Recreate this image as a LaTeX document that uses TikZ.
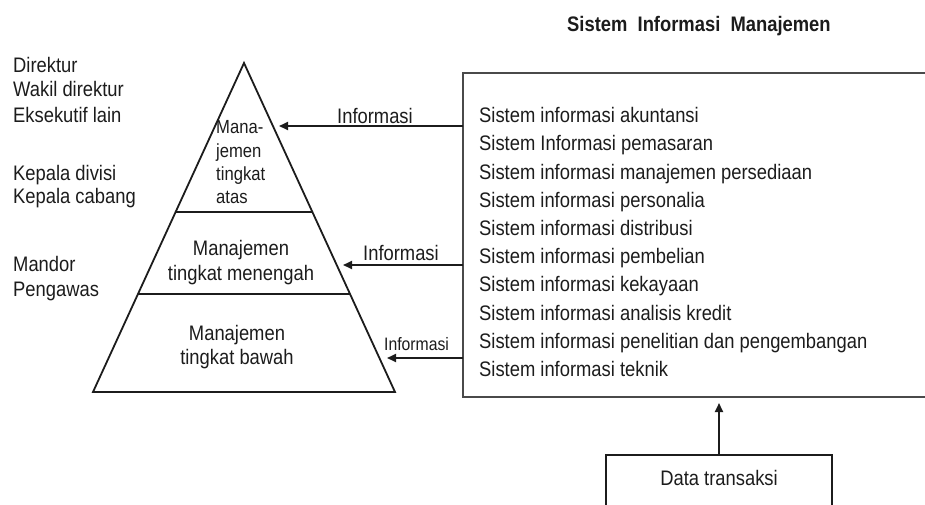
\documentclass[tikz,border=0pt]{standalone}
\usepackage{fontspec}
\setmainfont{Liberation Sans}[FakeStretch=0.875]
\usetikzlibrary{arrows.meta}
\definecolor{ink}{HTML}{1C1C1C}
\definecolor{boxline}{HTML}{4A4A4A}
\begin{document}
\begin{tikzpicture}[x=1pt,y=-1pt,
  lbl/.style={anchor=base west, inner sep=0pt, font=\fontsize{21}{24}\selectfont, text=ink},
  ctr/.style={lbl, anchor=base},
  small/.style={font=\fontsize{19}{22}\selectfont},
  ln/.style={line width=1.8pt, draw=ink},
  arr/.style={ln, -{Triangle[length=9pt,width=8pt]}}]
\useasboundingbox (0,0) rectangle (925,504);

% pyramid
\coordinate (apex) at (244,63);
\coordinate (bl) at (93,392);
\coordinate (br) at (395,392);
\coordinate (l1) at (175.6,212);
\coordinate (r1) at (312.4,212);
\coordinate (l2) at (138,294);
\coordinate (r2) at (350,294);
\draw[ln, line join=miter] (apex) -- (br) -- (bl) -- cycle;
\draw[ln] (l1) -- (r1);
\draw[ln] (l2) -- (r2);

% pyramid texts
\node[lbl, small] (m1) at (216,133) {Mana-};
\node[lbl, small] (m2) at (216,157) {jemen};
\node[lbl, small] (m3) at (216,180) {tingkat};
\node[lbl, small] (m4) at (216,203) {atas};
\node[ctr] (mm1) at (241,255) {Manajemen};
\node[ctr] (mm2) at (241,280) {tingkat menengah};
\node[ctr] (mb1) at (237,340) {Manajemen};
\node[ctr] (mb2) at (237,364) {tingkat bawah};

% left labels
\node[lbl] (d1) at (13,72.7) {Direktur};
\node[lbl] (d2) at (13,96.7) {Wakil direktur};
\node[lbl] (d3) at (13,122.7) {Eksekutif lain};
\node[lbl] (k1) at (13,180) {Kepala divisi};
\node[lbl] (k2) at (13,203) {Kepala cabang};
\node[lbl] (p1) at (13,271.7) {Mandor};
\node[lbl] (p2) at (13,296.7) {Pengawas};

% title
\node[lbl, font=\bfseries\fontsize{21}{24}\selectfont] (title) at (567,31.7) {Sistem\ \ Informasi\ \ Manajemen};

% main box (right side runs off the picture)
\node[draw=boxline, line width=2.2pt, anchor=north west, minimum width=520pt,
      minimum height=324pt, inner sep=0pt, outer sep=0pt] (sim) at (463,73) {};

\foreach \t [count=\i] in {Sistem informasi akuntansi, Sistem Informasi pemasaran,
  Sistem informasi manajemen persediaan, Sistem informasi personalia,
  Sistem informasi distribusi, Sistem informasi pembelian, Sistem informasi kekayaan,
  Sistem informasi analisis kredit, Sistem informasi penelitian dan pengembangan,
  Sistem informasi teknik}
  \node[lbl] (s\i) at (479,{122.7+28.2*(\i-1)}) {\t};

% information arrows
\coordinate (t1) at (279,126);
\coordinate (t2) at (343,265);
\coordinate (t3) at (387,358);
\draw[arr] (sim.west |- t1) -- (t1);
\draw[arr] (sim.west |- t2) -- (t2);
\draw[arr] (sim.west |- t3) -- (t3);
\node[lbl] (i1) at (337,123) {Informasi};
\node[lbl] (i2) at (363,260) {Informasi};
\node[lbl, font=\fontsize{18}{20}\selectfont] (i3) at (384,350) {Informasi};

% data box
\node[draw=ink, line width=1.8pt, anchor=north west, minimum width=226pt,
      minimum height=80pt, inner sep=0pt, outer sep=0pt] (dt) at (606,455) {};
\node[ctr] (dtl) at (719,485.7) {Data transaksi};
\draw[arr, shorten >=6pt] (dt.north) -- (dt.north |- sim.south);
\end{tikzpicture}
\end{document}
